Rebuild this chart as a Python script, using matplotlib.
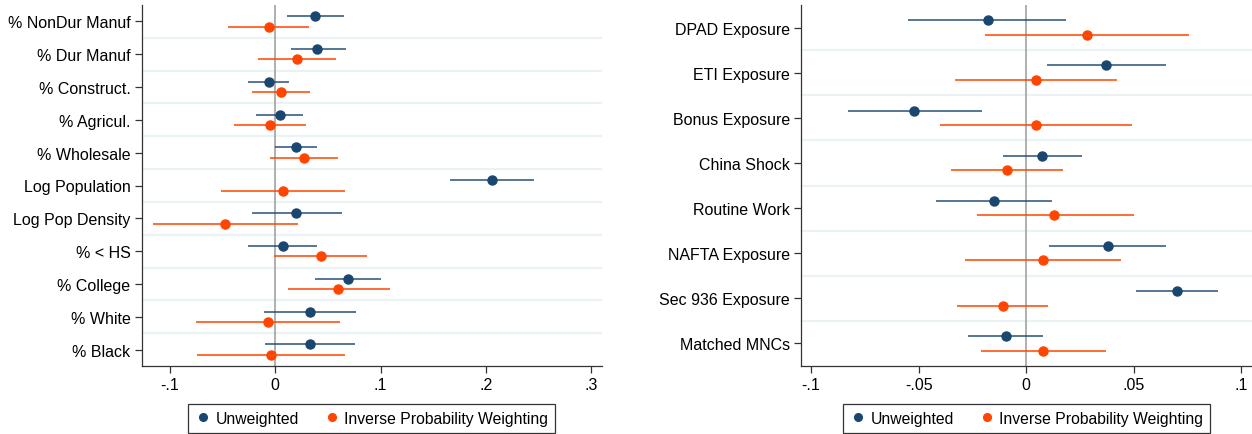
import matplotlib
matplotlib.use("Agg")
import matplotlib.pyplot as plt
import numpy as np

plt.rcParams["font.family"] = ["Liberation Sans", "DejaVu Sans"]

# -- left panel: county characteristics ------------------------------------
left_labels = ["% NonDur Manuf", "% Dur Manuf", "% Construct.", "% Agricul.", "% Wholesale",
               "Log Population", "Log Pop Density", "% < HS", "% College", "% White", "% Black"]
left_unw = [0.038, 0.040, -0.006, 0.004, 0.020, 0.206, 0.020, 0.007, 0.069, 0.033, 0.033]
left_unw_lo = [0.011, 0.015, -0.026, -0.018, 0.000, 0.166, -0.022, -0.026, 0.038, -0.011, -0.010]
left_unw_hi = [0.065, 0.067, 0.013, 0.026, 0.040, 0.246, 0.063, 0.040, 0.100, 0.077, 0.076]
left_ipw = [-0.006, 0.021, 0.005, -0.005, 0.027, 0.007, -0.048, 0.043, 0.060, -0.007, -0.004]
left_ipw_lo = [-0.045, -0.016, -0.022, -0.039, -0.005, -0.052, -0.116, -0.001, 0.012, -0.075, -0.074]
left_ipw_hi = [0.032, 0.058, 0.033, 0.029, 0.060, 0.066, 0.022, 0.087, 0.109, 0.061, 0.066]
left_ticks = [-0.1, 0, 0.1, 0.2, 0.3]
left_ticklabels = ["-.1", "0", ".1", ".2", ".3"]

# -- right panel: policy exposures -----------------------------------------
right_labels = ["DPAD Exposure", "ETI Exposure", "Bonus Exposure", "China Shock",
                "Routine Work", "NAFTA Exposure", "Sec 936 Exposure", "Matched MNCs"]
right_unw = [-0.018, 0.037, -0.052, 0.0075, -0.015, 0.038, 0.070, -0.0096]
right_unw_lo = [-0.055, 0.0096, -0.083, -0.011, -0.042, 0.0105, 0.051, -0.027]
right_unw_hi = [0.0185, 0.065, -0.0205, 0.026, 0.012, 0.065, 0.089, 0.008]
right_ipw = [0.028, 0.0045, 0.0045, -0.009, 0.013, 0.008, -0.011, 0.008]
right_ipw_lo = [-0.019, -0.033, -0.040, -0.035, -0.023, -0.0285, -0.032, -0.021]
right_ipw_hi = [0.0755, 0.042, 0.049, 0.017, 0.050, 0.044, 0.010, 0.037]
right_ticks = [-0.1, -0.05, 0, 0.05, 0.1]
right_ticklabels = ["-.1", "-.05", "0", ".05", ".1"]

NAVY = "#1a476f"
ORANGE = "#ff4500"
GRID = "#eaf2f3"
W, H = 1252, 435


def draw_panel(ax, labels, unw, unw_lo, unw_hi, ipw, ipw_lo, ipw_hi, ticks, ticklabels, xlim):
    n = len(labels)
    pos = np.arange(n)
    off = 0.16
    for i in range(n - 1):
        ax.axhline(i + 0.5, color=GRID, lw=1.6, zorder=0)
    ax.axvline(0, color="#9a9a9a", lw=1.1, zorder=1)
    ax.hlines(pos - off, unw_lo, unw_hi, color=NAVY, alpha=0.8, lw=1.3, zorder=2)
    ax.hlines(pos + off, ipw_lo, ipw_hi, color=ORANGE, alpha=0.85, lw=1.3, zorder=2)
    ax.plot(unw, pos - off, "o", color=NAVY, ms=6.5, zorder=3, label="Unweighted")
    ax.plot(ipw, pos + off, "o", color=ORANGE, ms=6.5, zorder=3,
            label="Inverse Probability Weighting")
    ax.set_ylim(n - 0.5, -0.5)
    ax.set_xlim(*xlim)
    ax.set_yticks(pos)
    ax.set_yticklabels(labels, fontsize=11.5)
    ax.set_xticks(ticks)
    ax.set_xticklabels(ticklabels, fontsize=11.5)
    ax.tick_params(axis="both", length=5, width=0.9, color="#333333", pad=3)
    for side in ("top", "right"):
        ax.spines[side].set_visible(False)
    for side in ("left", "bottom"):
        ax.spines[side].set_color("#333333")
        ax.spines[side].set_linewidth(0.9)
    leg = ax.legend(loc="center", bbox_to_anchor=(0.5, -0.145), ncol=2, fontsize=11.3,
                    frameon=True, fancybox=False, edgecolor="black", handletextpad=0.3,
                    handlelength=1.0, columnspacing=1.6, borderpad=0.45, markerscale=0.85)
    leg.get_frame().set_linewidth(0.9)


fig = plt.figure(figsize=(W / 100, H / 100), dpi=100)
bottom = (H - 367) / H
height = (367 - 6) / H
ax1 = fig.add_axes([141.7 / W, bottom, (601.7 - 141.7) / W, height])
ax2 = fig.add_axes([801 / W, bottom, (1252 - 801) / W, height])

draw_panel(ax1, left_labels, left_unw, left_unw_lo, left_unw_hi,
           left_ipw, left_ipw_lo, left_ipw_hi, left_ticks, left_ticklabels, (-0.1269, 0.310))
draw_panel(ax2, right_labels, right_unw, right_unw_lo, right_unw_hi,
           right_ipw, right_ipw_lo, right_ipw_hi, right_ticks, right_ticklabels, (-0.1047, 0.1049))

fig.savefig("out.png", dpi=100)
